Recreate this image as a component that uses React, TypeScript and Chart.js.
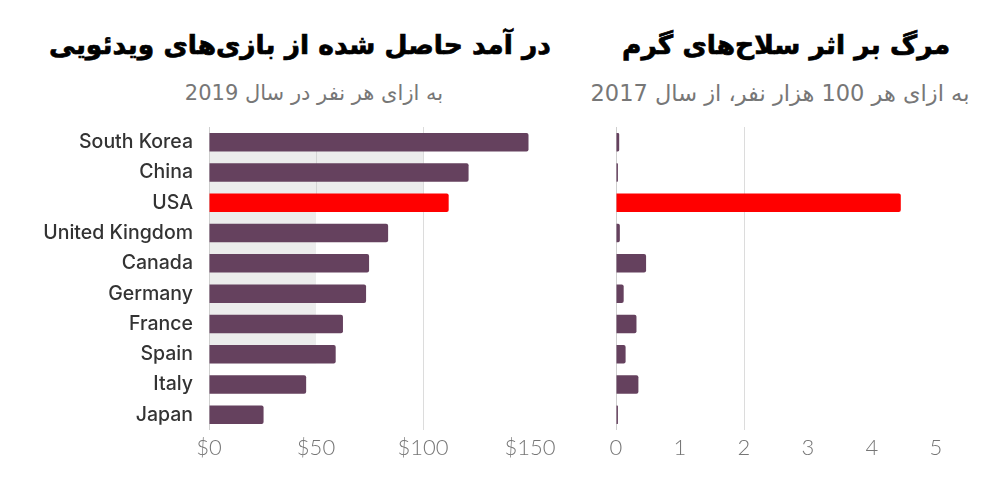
import React, { useEffect, useRef } from "react";
import { Chart, registerables } from "chart.js";

Chart.register(...registerables);

// ---- data ----
const countries = [
  "South Korea",
  "China",
  "USA",
  "United Kingdom",
  "Canada",
  "Germany",
  "France",
  "Spain",
  "Italy",
  "Japan",
];
const gamingRevenuePerCapita = [149.3, 121.3, 112, 83.7, 74.8, 73.4, 62.6, 59.2, 45.4, 25.5];
const gunDeathsPer100k = [0.05, 0.03, 4.45, 0.06, 0.47, 0.12, 0.32, 0.15, 0.35, 0.03];
const revenueTickValues = [0, 50, 100, 150];
const deathTickValues = [0, 1, 2, 3, 4, 5];
const highlightCountry = "USA";

const leftTitle = "در آمد حاصل شده از بازی‌های ویدئویی";
const leftSubtitle = "به ازای هر نفر در سال 2019";
const rightTitle = "مرگ بر اثر سلاح‌های گرم";
const rightSubtitle = "به ازای هر 100 هزار نفر، از سال 2017";

const PURPLE = "#65415e";
const RED = "#ff0000";
const barColors = countries.map((c) => (c === highlightCountry ? RED : PURPLE));

const bandPlugin = {
  id: "grayBand",
  beforeDraw(chart: any) {
    const { ctx, scales } = chart;
    const x = scales.x;
    const y = scales.y;
    if (!x || !y) return;
    const rowH = y.getPixelForValue(1) - y.getPixelForValue(0);
    const rowY = (r: number) => y.getPixelForValue(0) + r * rowH;
    const x0 = x.getPixelForValue(0);
    const x50 = x.getPixelForValue(50);
    const x100 = x.getPixelForValue(100);
    ctx.save();
    ctx.fillStyle = "#ececec";
    ctx.fillRect(x0, rowY(0.3), x100 - x0, rowY(2.3) - rowY(0.3));
    ctx.fillRect(x0, rowY(2.3), x50 - x0, rowY(7.3) - rowY(2.3));
    ctx.strokeStyle = "#d4d4d4";
    ctx.lineWidth = 1;
    ctx.beginPath();
    ctx.moveTo(Math.round(x50) + 0.5, rowY(0.3));
    ctx.lineTo(Math.round(x50) + 0.5, rowY(2.3));
    ctx.stroke();
    ctx.restore();
  },
};

const tickFont = { family: "Lato, 'Open Sans', sans-serif", size: 22, weight: "300" as any };

function LeftChart() {
  const ref = useRef<HTMLCanvasElement>(null);
  useEffect(() => {
    if (!ref.current) return;
    const chart = new Chart(ref.current, {
      type: "bar",
      data: {
        labels: countries,
        datasets: [
          {
            data: gamingRevenuePerCapita,
            backgroundColor: barColors,
            barPercentage: 0.61,
            categoryPercentage: 1,
            borderRadius: 2,
            borderSkipped: "start",
          },
        ],
      },
      options: {
        indexAxis: "y",
        responsive: false,
        animation: false,
        layout: { padding: { left: 0, right: 30, top: 12, bottom: 0 } },
        plugins: { legend: { display: false }, tooltip: { enabled: false } },
        scales: {
          x: {
            min: 0,
            max: 150,
            afterBuildTicks: (s: any) => {
              s.ticks = revenueTickValues.map((v) => ({ value: v }));
            },
            ticks: {
              callback: (v: any) => "$" + v,
              color: "#767676",
              font: tickFont,
              padding: 5,
              maxRotation: 0,
            },
            grid: {
              drawTicks: false,
              color: (c: any) =>
                c.tick && c.tick.value === 0 ? "#cfcfcf" : c.tick && c.tick.value === 100 ? "#dcdcdc" : "transparent",
            },
            border: { display: false },
            afterFit: (s: any) => {
              s.height = 40;
              s.paddingLeft = 0;
              s.paddingRight = 0;
            },
          },
          y: {
            ticks: {
              color: "#333333",
              font: { family: "Inter, 'Libre Franklin', sans-serif", size: 19.5, weight: "500" as any },
              padding: 16,
            },
            grid: { display: false, drawTicks: false },
            border: { display: false },
            afterFit: (s: any) => {
              s.width = 209;
              s.paddingTop = 0;
              s.paddingBottom = 0;
            },
          },
        },
      },
      plugins: [bandPlugin],
    });
    return () => chart.destroy();
  }, []);
  return (
    <canvas
      ref={ref}
      width={560}
      height={355}
      style={{ position: "absolute", left: 0, top: 115, width: 560, height: 355 }}
    />
  );
}

function RightChart() {
  const ref = useRef<HTMLCanvasElement>(null);
  useEffect(() => {
    if (!ref.current) return;
    const chart = new Chart(ref.current, {
      type: "bar",
      data: {
        labels: countries,
        datasets: [
          {
            data: gunDeathsPer100k,
            backgroundColor: barColors,
            barPercentage: 0.61,
            categoryPercentage: 1,
            borderRadius: 2,
            borderSkipped: "start",
          },
        ],
      },
      options: {
        indexAxis: "y",
        responsive: false,
        animation: false,
        layout: { padding: { left: 56, right: 64, top: 12, bottom: 0 } },
        plugins: { legend: { display: false }, tooltip: { enabled: false } },
        scales: {
          x: {
            min: 0,
            max: 5,
            afterBuildTicks: (s: any) => {
              s.ticks = deathTickValues.map((v) => ({ value: v }));
            },
            ticks: {
              color: "#767676",
              font: tickFont,
              padding: 5,
              maxRotation: 0,
            },
            grid: {
              drawTicks: false,
              color: (c: any) =>
                c.tick && c.tick.value === 0 ? "#cfcfcf" : c.tick && c.tick.value === 2 ? "#dcdcdc" : "transparent",
            },
            border: { display: false },
            afterFit: (s: any) => {
              s.height = 40;
              s.paddingLeft = 0;
              s.paddingRight = 0;
            },
          },
          y: {
            display: false,
          },
        },
      },
    });
    return () => chart.destroy();
  }, []);
  return (
    <canvas
      ref={ref}
      width={440}
      height={355}
      style={{ position: "absolute", left: 560, top: 115, width: 440, height: 355 }}
    />
  );
}

const titleStyle: React.CSSProperties = {
  position: "absolute",
  width: 600,
  textAlign: "center",
  fontFamily: "'DejaVu Sans', sans-serif",
  fontWeight: 700,
  fontSize: 26.5,
  lineHeight: "40px",
  color: "#000",
  whiteSpace: "nowrap",
  WebkitTextStroke: "0.7px #000",
};
const subStyle: React.CSSProperties = {
  position: "absolute",
  width: 600,
  textAlign: "center",
  fontFamily: "'DejaVu Sans', sans-serif",
  fontWeight: 400,
  fontSize: 21,
  lineHeight: "30px",
  color: "#777777",
  whiteSpace: "nowrap",
};

export default function App() {
  return (
    <div
      style={{
        position: "fixed",
        left: 0,
        top: 0,
        width: 1000,
        height: 500,
        background: "#fff",
        overflow: "hidden",
      }}
    >
      <div dir="rtl" style={{ ...titleStyle, left: 300 - 300, top: 25 }}>
        {leftTitle}
      </div>
      <div dir="rtl" style={{ ...subStyle, left: 314 - 300, top: 78 }}>
        {leftSubtitle}
      </div>
      <div dir="rtl" style={{ ...titleStyle, left: 786 - 300, top: 25 }}>
        {rightTitle}
      </div>
      <div dir="rtl" style={{ ...subStyle, fontSize: 22.5, left: 780 - 300, top: 78 }}>
        {rightSubtitle}
      </div>
      <LeftChart />
      <RightChart />
    </div>
  );
}
